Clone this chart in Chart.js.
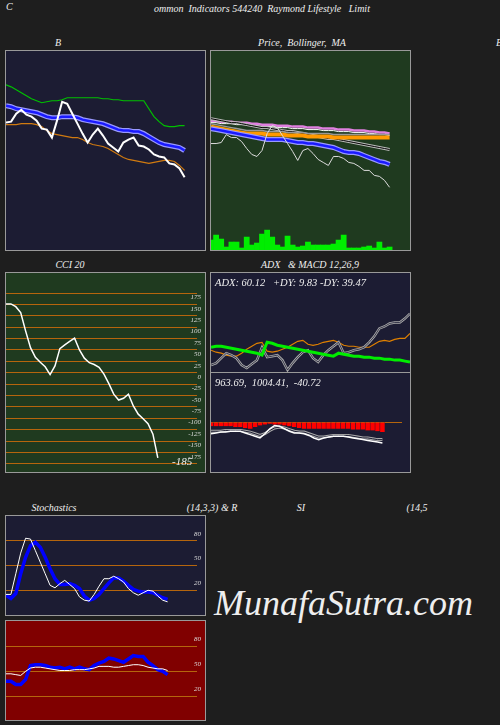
<!DOCTYPE html>
<html>
<head>
<meta charset="utf-8">
<script src="https://cdn.jsdelivr.net/npm/chart.js@4"></script>
<style>
  body { margin: 0; background: #1e1e1e; width: 500px; height: 725px; overflow: hidden; position: relative;
         font-family: "Liberation Serif", "DejaVu Serif", serif; font-style: italic; color: #eee; }
  .t { position: absolute; font-size: 10px; white-space: pre; transform: translate(-50%, -50%); }
  .l { position: absolute; font-size: 10px; white-space: pre; }
  .p { position: absolute; box-sizing: border-box; border: 1px solid #999; }
  .p canvas { display: block; }
</style>
</head>
<body>
<div class="l" style="left:6px;top:1px">C</div>
<div class="t" style="left:262px;top:8px">ommon  Indicators 544240  Raymond Lifestyle   Limit</div>
<div class="t" style="left:58px;top:42px">B</div>
<div class="t" style="left:302px;top:42px">Price,  Bollinger,  MA</div>
<div class="t" style="left:499px;top:42px">B</div>
<div class="t" style="left:70px;top:264px">CCI 20</div>
<div class="t" style="left:310px;top:264px">ADX   &amp; MACD 12,26,9</div>
<div class="t" style="left:54px;top:507px">Stochastics</div>
<div class="t" style="left:212px;top:507px">(14,3,3) &amp; R</div>
<div class="t" style="left:301px;top:507px">SI</div>
<div class="t" style="left:417px;top:507px">(14,5</div>

<div class="p" style="left:5px;top:50px;width:201px;height:201px;background:#1c1c33"><canvas id="c1"></canvas></div>
<div class="p" style="left:210px;top:50px;width:201px;height:201px;background:#1f3a1f"><canvas id="c2"></canvas></div>
<div class="p" style="left:5px;top:272px;width:201px;height:201px;background:#1f3a1f"><canvas id="c3"></canvas></div>
<div class="p" style="left:210px;top:272px;width:201px;height:101px;background:#1c1c33"><canvas id="c4"></canvas></div>
<div class="p" style="left:210px;top:372px;width:201px;height:101px;background:#1c1c33"><canvas id="c5"></canvas></div>
<div class="p" style="left:5px;top:515px;width:201px;height:101px;background:#1c1c33"><canvas id="c6"></canvas></div>
<div class="p" style="left:5px;top:620px;width:201px;height:101px;background:#800000"><canvas id="c7"></canvas></div>

<div class="l" style="left:215px;top:277px;font-size:10.5px">ADX: 60.12   +DY: 9.83 -DY: 39.47</div>
<div class="l" style="left:215px;top:377px;font-size:10.5px">963.69,  1004.41,  -40.72</div>
<div class="l" style="left:172px;top:455px;font-size:11px">-185</div>
<div class="l" style="left:214px;top:582px;font-size:36px">MunafaSutra.com</div>

<script>
const labels = Array.from({ length: 40 }, (_, i) => i);

// Bollinger panel
const bbUpper = [166,164,161,158,155,152,150,148,149,150,150,151,153,153,153,153,153,153,153,152,152,151,151,150,150,150,150,150,142,134,129,125,124,124,125,125];
const bbMid = [145,144,142,141,140,139,138,136,134,133,133,134,134,134,133,131,130,129,128,127,125,123,121,120,120,119,119,117,114,111,108,106,105,104,103,100];
const bbLower = [126,126,126,127,127,127,126,124,120,117,116,115,114,113,113,111,108,106,105,104,102,99,96,93,91,90,89,88,87,88,89,90,90,89,85,80];
const bbPrice = [128,129,137,141,136,134,130,122,121,113,130,149,147,137,127,117,108,116,122,115,107,103,99,108,111,113,105,104,101,96,94,93,87,86,82,73];

// Price / MA panel
const price = [107,107,108,116,113,113,109,102,96,94,100,117,125,123,115,107,99,90,100,102,97,91,88,85,94,94,92,88,87,84,80,80,75,74,70,63];
const maPink = [130,130,129,129,129,128,128,128,127,127,126,126,126,125,125,125,124,124,124,123,123,123,122,122,122,121,121,121,120,120,120,119,119,118,118,117];
const maWhite = [128,128,127,127,127,126,126,126,125,125,124,124,124,123,123,123,122,122,122,121,121,121,120,120,120,119,119,119,118,118,118,117,117,116,116,115];
const maBlack = [132,131,130,129,128,128,127,126,125,124,123,123,122,121,120,119,119,118,117,116,115,114,113,112,112,111,110,109,108,107,106,105,104,103,102,101];
const maGray = [127,126,125,124,123,122,121,120,120,120,120,119,119,119,119,118,118,118,118,117,117,117,117,117,116,116,116,116,116,116,116,116,116,116,116,116];
const maOrange = [124,123,122,121,120,119,118,117,117,117,117,116,116,116,116,115,115,115,115,114,114,114,114,114,113,113,113,113,113,113,113,113,113,113,113,113];
const maBlue = [122,121,120,119,118,117,116,115,114,113,112,111,111,111,111,110,109,108,108,107,107,106,105,104,103,101,99,98,98,97,95,93,91,89,88,86];
const volume = [10,15,11,3,8,8,2,13,5,7,16,20,13,5,3,14,5,3,4,8,5,5,5,5,6,10,15,2,2,2,3,4,2,8,2,3];

// CCI
const cci = [176,176,170,157,117,80,59,48,38,21,40,78,86,94,101,75,57,47,43,37,22,1,-22,-35,-31,-22,-48,-66,-76,-87,-110,-162];
const cciTicks = [200,175,150,125,100,75,50,25,0,-25,-50,-75,-100,-125,-150,-175];

// ADX
const adx = [25,26,26,25,24,23,22,21,20,19,17,30,29,27,26,25,24,23,22,21,20,19,18,17,16,19,18,17,16,16,15,15,14,14,13,13,12,12,11,10];
const minusDy = [22,20,19,17,16,16,19,23,26,29,30,21,20,21,23,25,28,31,32,28,27,28,30,31,32,30,27,26,26,25,25,25,28,31,32,31,33,34,34,39];
const plusDy = [7,9,14,19,17,14,7,4,8,12,25,15,16,17,12,2,9,15,20,22,14,10,17,22,26,30,19,20,22,23,25,30,36,44,46,49,50,50,54,59];

// MACD
const macd = [-14,-13,-12,-12,-11,-11,-11,-13,-15,-17,-19,-14,-8,-4,-5,-8,-11,-13,-13,-14,-16,-19,-21,-19,-18,-17,-17,-17,-18,-19,-20,-21,-22,-23,-24,-25];
const signal = [-11,-11,-11,-10,-10,-10,-10,-11,-12,-14,-16,-14,-10,-7,-6,-7,-9,-11,-12,-12,-14,-16,-18,-18,-17,-16,-16,-16,-16,-17,-18,-19,-19,-20,-21,-21];
const hist = [-5,-5,-5,-5,-5,-6,-6,-7,-8,-6,-4,-3,-2,-3,-3,-4,-5,-6,-7,-8,-8,-8,-8,-8,-8,-8,-8,-8,-8,-9,-9,-9,-10,-10,-11,-12];

// Stochastics & RSI
const stochK = [15,15,40,65,83,82,68,54,40,26,23,28,32,27,22,12,8,7,15,25,34,34,37,34,30,22,17,14,17,20,19,13,8,6];
const stochD = [14,10,16,40,60,74,78,72,60,46,34,27,27,28,26,22,13,8,10,15,22,29,35,35,31,26,21,19,18,18,17,14,11,9];
const rsi = [38,38,34,34,40,57,58,58,57,55,54,55,53,55,53,55,53,52,57,60,62,66,65,63,61,65,69,68,68,61,57,52,50,46];
const rsiAvg = [47,47,46,45,50,54,55,55,54,53,52,51,51,51,52,52,52,53,54,56,56,56,55,55,56,57,58,58,57,55,54,53,53,51];
const levelTicks = [80, 50, 20];

const tickFont = { family: 'Liberation Serif', style: 'italic', size: 7 };

function line(data, color, width) {
  return { type: 'line', data, borderColor: color, borderWidth: width, pointRadius: 0, tension: 0, fill: false };
}

function yAxis(min, max, ticks, hideLabels) {
  if (!ticks) return { min, max, display: false };
  return {
    min, max, position: 'right',
    afterBuildTicks: ax => { ax.ticks = ticks.map(v => ({ value: v })); },
    grid: { color: '#b5650d', lineWidth: 1, drawTicks: false },
    border: { display: false },
    ticks: { mirror: true, padding: 4, labelOffset: -7, color: '#ddd', font: tickFont,
             callback: v => (hideLabels || (v === ticks[0] && ticks.length > 3)) ? '' : v }
  };
}

// datasets listed bottom to top; Chart.js paints the first one last, so reverse
function make(id, datasets, y, extraScales) {
  new Chart(document.getElementById(id), {
    type: 'line',
    data: { labels, datasets: datasets.slice().reverse() },
    options: {
      responsive: true, maintainAspectRatio: false, animation: false,
      layout: { padding: 0 },
      plugins: { legend: { display: false }, tooltip: { enabled: false } },
      scales: Object.assign({ x: { display: false, offset: false }, y }, extraScales || {})
    }
  });
}

make('c1', [
  line(bbUpper, '#00c000', 1.2),
  line(bbMid, '#9999ff', 5),
  line(bbMid, '#1a1aff', 2.5),
  line(bbLower, '#d07a10', 1.2),
  line(bbPrice, '#ffffff', 2)
], yAxis(0, 200));

make('c2', [
  { type: 'bar', data: volume, backgroundColor: '#00ee00', yAxisID: 'yv', barPercentage: 1, categoryPercentage: 1 },
  line(maPink, '#e080e0', 2.5),
  line(maWhite, '#ffffff', 1),
  line(maBlack, '#bbbbbb', 3),
  line(maBlack, '#000000', 1),
  line(maGray, '#999999', 1.5),
  line(maOrange, '#ff9900', 4),
  line(maBlue, '#9999ff', 5),
  line(maBlue, '#1a1aff', 2.5),
  line(price, '#dddddd', 1)
], yAxis(0, 200), { yv: { display: false, min: 0, max: 200 } });

make('c3', [line(cci, '#ffffff', 1.5)], yAxis(-175, 226, cciTicks));

make('c4', [
  line(minusDy, '#e08000', 1.2),
  line(plusDy, '#aaaaaa', 2.5),
  line(plusDy, '#1c1c33', 0.8),
  line(adx, '#00ee00', 3)
], yAxis(0, 100));

make('c5', [
  { type: 'bar', data: hist, backgroundColor: '#ff0000', borderColor: '#1c1c33', borderWidth: { left: 0.5, right: 0.5 }, barPercentage: 1, categoryPercentage: 1 },
  line(signal, '#aaaaaa', 3),
  line(signal, '#1c1c33', 1),
  line(macd, '#ffffff', 1.5)
], yAxis(-50, 49, [0], true));

make('c6', [
  line(stochD, '#0000ff', 3.5),
  line(stochK, '#ffffff', 1)
], yAxis(0, 100, levelTicks));

make('c7', [
  line(rsi, '#0000ff', 3.5),
  line(rsiAvg, '#ffffff', 1)
], yAxis(1, 101, levelTicks));
</script>
</body>
</html>
